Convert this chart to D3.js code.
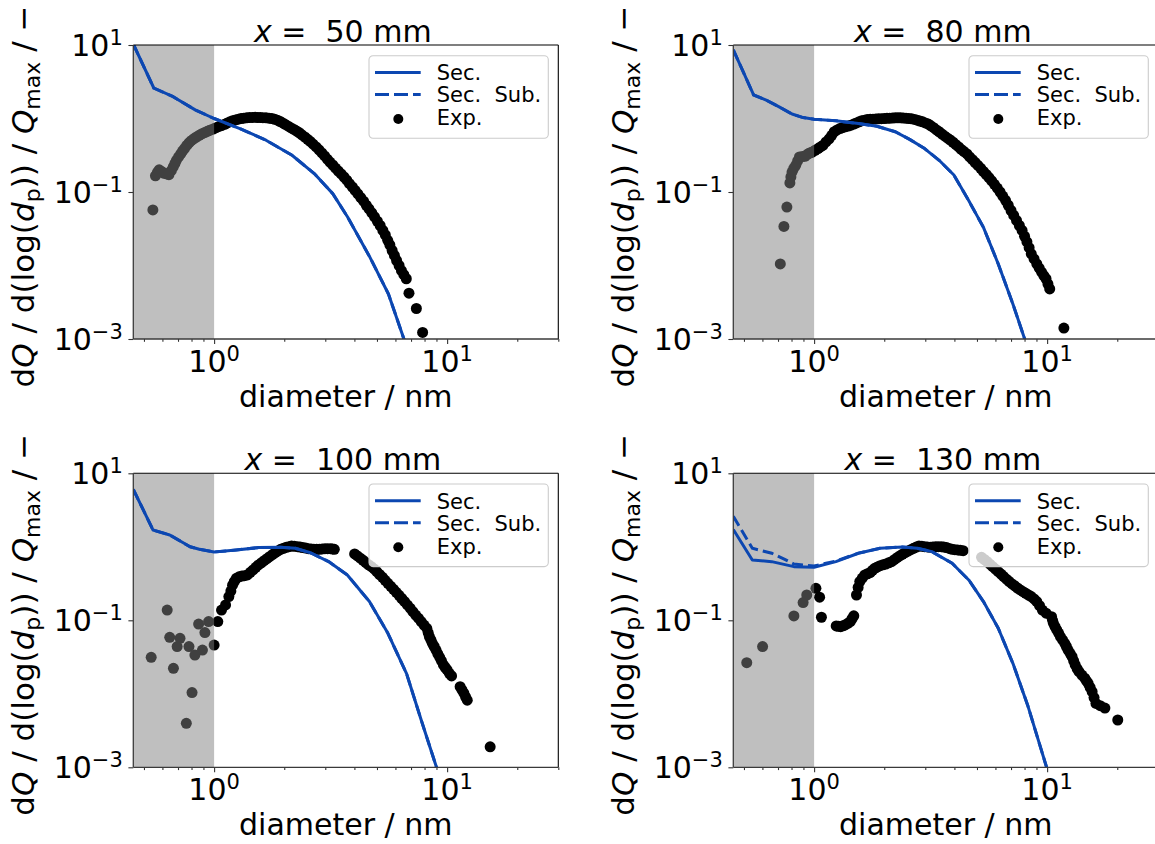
<!DOCTYPE html>
<html>
<head>
<meta charset="utf-8">
<script src="https://cdn.jsdelivr.net/npm/d3@7"></script>
<style>
  body { margin: 0; background: #fff; }
  text { font-family: "DejaVu Sans", sans-serif; fill: #000; }
</style>
</head>
<body>
<svg id="fig" width="1155" height="844"></svg>
<script>
// ---- data: size distributions at four axial positions ----
const positions = ["50", "80", "100", "130"];

// x-axis ticks (diameter, nm) and y-axis ticks
const xMajor = [1, 10];
const xMajorExp = ["0", "1"];
const xMinor = [0.5, 0.6, 0.7, 0.8, 0.9, 2, 3, 4, 5, 6, 7, 8, 9, 20, 30];
const yMajor = [10, 0.1, 0.001];
const yMajorExp = ["1", "\u22121", "\u22123"];

// sectional model, [diameter, dQ/dlog(dp)/Qmax]
const sec50 = [[0.45,10.3],[0.551,2.6],[0.667,1.98],[0.833,1.3],[1.0,1.0],[1.29,0.73],[1.67,0.507],[2.16,0.316],[2.69,0.178],[3.23,0.095],[3.74,0.0457],[4.66,0.013],[5.6,0.0041],[6.6,0.0009]];
const sub50 = [[0.45,10.3],[0.551,2.6],[0.667,1.98],[0.833,1.3],[1.0,1.0],[1.29,0.73],[1.67,0.507],[2.16,0.316],[2.69,0.178],[3.23,0.095],[3.74,0.0457],[4.66,0.013],[5.6,0.0041],[6.6,0.0009]];
const sec80 = [[0.45,8.6],[0.55,2.09],[0.623,1.78],[0.708,1.44],[0.804,1.15],[0.897,1.03],[1.0,0.98],[1.24,0.93],[1.55,0.855],[1.86,0.785],[2.23,0.66],[2.57,0.52],[2.98,0.39],[3.44,0.27],[3.98,0.17],[4.6,0.077],[5.33,0.033],[6.17,0.0105],[7.13,0.003],[8.1,0.0009]];
const sub80 = [[0.45,8.6],[0.55,2.09],[0.623,1.78],[0.708,1.44],[0.804,1.15],[0.897,1.03],[1.0,0.98],[1.24,0.93],[1.55,0.855],[1.86,0.785],[2.23,0.66],[2.57,0.52],[2.98,0.39],[3.44,0.27],[3.98,0.17],[4.6,0.077],[5.33,0.033],[6.17,0.0105],[7.13,0.003],[8.1,0.0009]];
const sec100 = [[0.45,6.05],[0.547,1.69],[0.645,1.45],[0.789,1.0],[0.864,0.925],[1.0,0.85],[1.245,0.905],[1.55,0.975],[1.93,0.985],[2.23,0.955],[2.59,0.83],[3.1,0.63],[3.73,0.414],[4.64,0.18],[5.57,0.0665],[6.69,0.019],[7.74,0.0044],[9.1,0.0009]];
const sub100 = [[0.45,6.05],[0.547,1.69],[0.645,1.45],[0.789,1.0],[0.864,0.925],[1.0,0.85],[1.245,0.905],[1.55,0.975],[1.93,0.985],[2.23,0.955],[2.59,0.83],[3.1,0.63],[3.73,0.414],[4.64,0.18],[5.57,0.0665],[6.69,0.019],[7.74,0.0044],[9.1,0.0009]];
const sec130 = [[0.45,1.72],[0.543,0.662],[0.658,0.628],[0.819,0.537],[1.0,0.526],[1.24,0.628],[1.55,0.817],[1.92,0.955],[2.39,0.995],[2.77,0.955],[3.2,0.86],[3.91,0.597],[4.61,0.354],[5.33,0.18],[6.17,0.078],[7.13,0.026],[8.25,0.007],[10.05,0.0009]];
const sub130 = [[0.45,2.6],[0.543,0.955],[0.658,0.817],[0.748,0.676],[0.819,0.583],[1.0,0.548],[1.24,0.64],[1.55,0.82],[1.92,0.955],[2.39,0.995],[2.77,0.955],[3.2,0.86],[3.91,0.597],[4.61,0.354],[5.33,0.18],[6.17,0.078],[7.13,0.026],[8.25,0.007],[10.05,0.0009]];

// measurements, [diameter, dQ/dlog(dp)/Qmax]
const exp50 = [[0.546,0.057],[0.56,0.166],[0.571,0.185],[0.581,0.2],[0.595,0.19],[0.61,0.18],[0.625,0.176],[0.64,0.172],[0.655,0.195],[0.668,0.22],[0.679,0.245],[0.689,0.27],[0.704,0.3],[0.719,0.33],[0.732,0.36],[0.746,0.39],[0.763,0.43],[0.78,0.466],[0.798,0.5],[0.817,0.53],[0.84,0.56],[0.863,0.59],[0.887,0.62],[0.912,0.645],[0.935,0.67],[0.957,0.69],[0.99,0.72],
  [1.02,0.75],[1.05,0.78],[1.076,0.8],[1.11,0.835],[1.14,0.87],[1.17,0.9],[1.2,0.93],[1.235,0.955],[1.27,0.98],[1.305,1.0],[1.34,1.01],[1.38,1.02],[1.42,1.03],[1.46,1.035],[1.5,1.04],[1.54,1.035],[1.58,1.03],[1.62,1.025],[1.67,1.02],[1.72,1.01],[1.77,1.0],[1.82,0.975],[1.87,0.95],[1.92,0.91],[1.97,0.87],[2.02,0.83],[2.08,0.785],[2.14,0.745],[2.2,0.71],[2.26,0.675],[2.32,0.64],[2.38,0.6],[2.45,0.56],[2.52,0.52],[2.59,0.485],[2.66,0.447],[2.74,0.41],[2.82,0.375],[2.9,0.34],[2.98,0.31],[3.06,0.28],[3.14,0.255],[3.23,0.233],[3.32,0.212],[3.41,0.193],[3.51,0.176],[3.61,0.16],[3.71,0.145],[3.81,0.13],[3.92,0.117],[4.03,0.105],[4.14,0.094],[4.26,0.084],[4.38,0.075],[4.5,0.066],[4.62,0.059],[4.75,0.052],[4.88,0.046],[5.02,0.04],[5.16,0.035],[5.3,0.03],[5.43,0.026],[5.56,0.022],[5.68,0.019],[5.81,0.016],[5.94,0.0137],[6.07,0.0117],[6.22,0.01],[6.37,0.0085],[6.52,0.0075],[6.68,0.0066],[6.86,0.0042],[7.38,0.0026],[7.85,0.00123]];
const exp80 = [[0.716,0.0105],[0.742,0.034],[0.764,0.0624],[0.787,0.133],[0.795,0.16],[0.804,0.187],[0.818,0.21],[0.834,0.231],[0.85,0.265],[0.865,0.3],[0.89,0.303],[0.913,0.306],[0.93,0.32],[0.947,0.333],[0.965,0.342],[0.982,0.35],
  [1.01,0.37],[1.04,0.39],[1.065,0.41],[1.09,0.43],[1.125,0.48],[1.16,0.53],[1.19,0.59],[1.22,0.66],[1.255,0.7],[1.29,0.73],[1.325,0.75],[1.36,0.77],[1.4,0.79],[1.44,0.81],[1.48,0.84],[1.52,0.87],[1.56,0.9],[1.6,0.93],[1.645,0.95],[1.69,0.97],[1.74,0.975],[1.79,0.98],[1.84,0.985],[1.89,0.99],[1.945,0.995],[2.0,1.0],[2.055,1.005],[2.11,1.01],[2.17,1.015],[2.23,1.02],[2.29,1.02],[2.35,1.02],[2.415,1.015],[2.48,1.01],[2.55,1.0],[2.62,0.99],[2.7,0.97],[2.77,0.95],[2.845,0.925],[2.92,0.9],[3.0,0.87],[3.09,0.84],[3.17,0.795],[3.26,0.75],[3.35,0.7],[3.44,0.66],[3.54,0.615],[3.64,0.575],[3.74,0.54],[3.84,0.51],[3.95,0.475],[4.06,0.44],[4.17,0.41],[4.28,0.38],[4.4,0.355],[4.53,0.33],[4.65,0.3],[4.78,0.275],[4.91,0.252],[5.05,0.23],[5.19,0.21],[5.33,0.19],[5.48,0.173],[5.63,0.157],[5.78,0.142],[5.94,0.127],[6.11,0.113],[6.28,0.1],[6.45,0.088],[6.63,0.077],[6.81,0.066],[7.0,0.056],[7.19,0.048],[7.39,0.041],[7.6,0.035],[7.81,0.03],[8.0,0.025],[8.19,0.021],[8.37,0.0175],[8.55,0.0144],[8.79,0.0123],[9.03,0.0105],[9.25,0.0092],[9.47,0.0081],[9.68,0.0073],[9.89,0.0066],[10.08,0.0056],[10.26,0.0048],[11.8,0.00141]];
const exp100 = [[0.537,0.0314],[0.629,0.138],[0.645,0.0587],[0.669,0.0222],[0.694,0.0439],[0.714,0.0569],[0.76,0.00397],[0.78,0.0439],[0.804,0.0104],[0.827,0.0337],[0.858,0.089],[0.891,0.0394],[0.913,0.068],[0.947,0.096],
  [1.0,0.046],[1.037,0.096],[1.076,0.138],[1.12,0.162],[1.157,0.21],[1.18,0.25],[1.2,0.3],[1.22,0.335],[1.245,0.372],[1.28,0.39],[1.315,0.4],[1.35,0.405],[1.39,0.414],[1.43,0.45],[1.47,0.484],[1.51,0.525],[1.55,0.566],[1.595,0.605],[1.64,0.648],[1.685,0.69],[1.73,0.735],[1.78,0.785],[1.83,0.833],[1.88,0.88],[1.93,0.925],[1.985,0.955],[2.04,0.985],[2.095,1.005],[2.15,1.025],[2.21,1.015],[2.28,1.005],[2.34,0.99],[2.4,0.975],[2.47,0.96],[2.54,0.944],[2.61,0.935],[2.68,0.925],[2.755,0.925],[2.83,0.925],[2.91,0.935],[2.99,0.944],[3.07,0.944],[3.16,0.944],[3.22,0.935],[3.28,0.925],
  [4.01,0.8],[4.12,0.75],[4.24,0.7],[4.36,0.655],[4.48,0.61],[4.6,0.57],[4.73,0.537],[4.86,0.5],[4.99,0.46],[5.13,0.42],[5.28,0.385],[5.42,0.35],[5.57,0.318],[5.73,0.29],[5.89,0.264],[6.05,0.24],[6.22,0.219],[6.39,0.198],[6.57,0.18],[6.75,0.162],[6.94,0.146],[7.13,0.131],[7.33,0.118],[7.53,0.107],[7.74,0.096],[7.96,0.086],[8.18,0.0778],[8.29,0.068],[8.39,0.06],[8.52,0.054],[8.64,0.0487],[8.8,0.044],[8.96,0.0394],[9.12,0.035],[9.29,0.0314],[9.46,0.028],[9.64,0.0247],[9.82,0.0228],[10.0,0.0211],[10.22,0.019],[10.45,0.0175],[11.37,0.0125],[11.58,0.0113],[11.8,0.0102],[12.0,0.0091],[12.2,0.0082],[15.3,0.0019]];
const exp130 = [[0.514,0.0265],[0.601,0.0439],[0.819,0.1146],[0.897,0.174],[0.93,0.221],
  [1.018,0.272],[1.056,0.206],[1.075,0.11],[1.244,0.0838],[1.27,0.083],[1.3,0.082],[1.33,0.084],[1.36,0.0865],[1.395,0.091],[1.43,0.096],[1.455,0.105],[1.48,0.115],[1.52,0.221],[1.545,0.28],[1.57,0.336],[1.61,0.375],[1.65,0.414],[1.695,0.43],[1.74,0.446],[1.78,0.478],[1.82,0.51],[1.87,0.532],[1.92,0.554],[1.975,0.568],[2.03,0.583],[2.09,0.605],[2.15,0.628],[2.21,0.668],[2.27,0.712],[2.33,0.75],[2.39,0.791],[2.46,0.832],[2.53,0.877],[2.6,0.915],[2.67,0.955],[2.745,0.99],[2.82,1.026],[2.9,1.015],[2.98,1.005],[3.06,0.995],[3.15,0.984],[3.23,0.995],[3.32,1.005],[3.41,1.005],[3.51,1.005],[3.6,0.99],[3.7,0.975],[3.8,0.95],[3.91,0.925],[4.02,0.915],[4.13,0.906],[4.24,0.896],[4.36,0.887],
  [5.23,0.72],[5.38,0.672],[5.53,0.628],[5.68,0.58],[5.84,0.537],[6.0,0.497],[6.17,0.459],[6.34,0.425],[6.51,0.393],[6.69,0.363],[6.88,0.336],[7.07,0.313],[7.26,0.293],[7.46,0.275],[7.67,0.259],[7.88,0.245],[8.1,0.233],[8.32,0.221],[8.55,0.21],[8.79,0.195],[9.03,0.18],[9.28,0.158],[9.54,0.138],[9.9,0.125],[10.45,0.112],[10.55,0.1],[10.64,0.091],[10.82,0.082],[11.0,0.074],[11.2,0.067],[11.4,0.06],[11.65,0.054],[11.9,0.0487],[12.1,0.044],[12.3,0.0394],[12.55,0.0355],[12.8,0.032],[13.0,0.028],[13.2,0.0247],[13.45,0.022],[13.7,0.02],[14.1,0.018],[14.5,0.0163],[14.75,0.015],[15.0,0.0139],[15.3,0.0122],[15.6,0.0107],[15.9,0.0089],[16.2,0.0074],[16.9,0.0069],[17.7,0.0064],[20.1,0.0044]];

const secSeries = [sec50, sec80, sec100, sec130];
const subSeries = [sub50, sub80, sub100, sub130];
const expSeries = [exp50, exp80, exp100, exp130];
const legendLabels = ["Sec.", "Sec.  Sub.", "Exp."];

// ---- layout ----
const W = 425, H = 294;
const colX = [133.3, 733.3], rowY = [45, 473.3];
const blue = "#0c47b1";
const shadeMax = 1.0;   // diameters below this are shaded

const x = d3.scaleLog().domain([0.45, 30]).range([0, W]);
const y = d3.scaleLog().domain([1e-3, 10]).range([H, 0]);

const svg = d3.select("#fig");
svg.append("rect").attr("width", 1155).attr("height", 844).attr("fill", "#fff");

const line = d3.line().x(d => x(d[0])).y(d => y(d[1]));

positions.forEach((pos, i) => {
  const g = svg.append("g")
    .attr("transform", `translate(${colX[i % 2]},${rowY[Math.floor(i / 2)]})`);

  const clipId = "clip" + i;
  g.append("clipPath").attr("id", clipId)
    .append("rect").attr("width", W).attr("height", H);

  const plot = g.append("g").attr("clip-path", `url(#${clipId})`);

  // measured points
  plot.append("g").selectAll("circle").data(expSeries[i]).join("circle")
    .attr("cx", d => x(d[0])).attr("cy", d => y(d[1]))
    .attr("r", 5.5).attr("fill", "#000");

  // shaded small-diameter range, laid over the points
  plot.append("rect")
    .attr("x", 0).attr("y", 0)
    .attr("width", x(shadeMax)).attr("height", H)
    .attr("fill", "#808080").attr("fill-opacity", 0.5);

  // model curves
  plot.append("path").datum(secSeries[i]).attr("d", line)
    .attr("fill", "none").attr("stroke", blue).attr("stroke-width", 3)
    .attr("stroke-linejoin", "round");
  plot.append("path").datum(subSeries[i]).attr("d", line)
    .attr("fill", "none").attr("stroke", blue).attr("stroke-width", 3)
    .attr("stroke-dasharray", "11,5");

  // axes: minor and major ticks
  const xMin = g.append("g").attr("transform", `translate(0,${H})`)
    .call(d3.axisBottom(x).tickValues(xMinor).tickSize(2.8).tickFormat(""));
  const xMaj = g.append("g").attr("transform", `translate(0,${H})`)
    .call(d3.axisBottom(x).tickValues(xMajor).tickSize(4.9).tickFormat(""));
  const yMaj = g.append("g")
    .call(d3.axisLeft(y).tickValues(yMajor).tickSize(4.9).tickFormat(""));
  [xMin, xMaj, yMaj].forEach(a => {
    a.select(".domain").remove();
    a.selectAll(".tick line").attr("stroke", "#333").attr("stroke-width", 1.1);
  });

  // spines
  g.append("line").attr("x1", 0).attr("x2", W).attr("y1", 0).attr("y2", 0)
    .attr("stroke", "#000").attr("stroke-width", 1.1);
  g.append("line").attr("x1", W).attr("x2", W).attr("y1", 0).attr("y2", H)
    .attr("stroke", "#000").attr("stroke-width", 1.1);
  g.append("line").attr("x1", 0).attr("x2", 0).attr("y1", 0).attr("y2", H)
    .attr("stroke", "#3a3a3a").attr("stroke-width", 1.3);
  g.append("line").attr("x1", 0).attr("x2", W).attr("y1", H).attr("y2", H)
    .attr("stroke", "#3a3a3a").attr("stroke-width", 1.3);

  // tick labels with exponents
  xMajor.forEach((v, k) => {
    const t = g.append("text").attr("x", x(v)).attr("y", H + 32.7)
      .attr("text-anchor", "middle").attr("font-size", 30);
    t.append("tspan").text("10");
    t.append("tspan").attr("font-size", 21).attr("dy", -11).text(xMajorExp[k]);
  });
  yMajor.forEach((v, k) => {
    const t = g.append("text").attr("x", -10.5).attr("y", y(v) + 11)
      .attr("text-anchor", "end").attr("font-size", 30);
    t.append("tspan").text("10");
    t.append("tspan").attr("font-size", 21).attr("dy", -11).text(yMajorExp[k]);
  });

  // title
  const title = g.append("text").attr("x", W / 2 - 3).attr("y", -3.5)
    .attr("text-anchor", "middle").attr("font-size", 30)
    .style("white-space", "pre");
  title.append("tspan").attr("font-style", "italic").text("x");
  title.append("tspan").text(" =  " + pos + " mm");

  // axis labels
  g.append("text").attr("x", W / 2).attr("y", H + 67.7)
    .attr("text-anchor", "middle").attr("font-size", 30)
    .text("diameter / nm");

  const yl = g.append("text")
    .attr("transform", `translate(-99.3,${H / 2 + 4.5}) rotate(-90)`)
    .attr("text-anchor", "middle").attr("font-size", 31)
    .style("white-space", "pre");
  yl.append("tspan").text("d");
  yl.append("tspan").attr("font-style", "italic").text("Q");
  yl.append("tspan").text(" / d(log(");
  yl.append("tspan").attr("font-style", "italic").text("d");
  yl.append("tspan").attr("font-size", 22).attr("dy", 6).text("p");
  yl.append("tspan").attr("dy", -6).text(")) / ");
  yl.append("tspan").attr("font-style", "italic").text("Q");
  yl.append("tspan").attr("font-size", 22).attr("dy", 6).text("max");
  yl.append("tspan").attr("dy", -6).text(" / \u2212");

  // legend
  const lw = 179.3, lh = 82.6;
  const lg = g.append("g").attr("transform", `translate(${W - 10 - lw},10.7)`);
  lg.append("rect").attr("width", lw).attr("height", lh).attr("rx", 4)
    .attr("fill", "#fff").attr("fill-opacity", 0.8)
    .attr("stroke", "#cccccc").attr("stroke-width", 1.1);
  const rows = [16.8, 38.8, 61.8];
  lg.append("line").attr("x1", 6).attr("x2", 51.7).attr("y1", rows[0]).attr("y2", rows[0])
    .attr("stroke", blue).attr("stroke-width", 3);
  lg.append("line").attr("x1", 6).attr("x2", 51.7).attr("y1", rows[1]).attr("y2", rows[1])
    .attr("stroke", blue).attr("stroke-width", 3).attr("stroke-dasharray", "14,5");
  lg.append("circle").attr("cx", 29.3).attr("cy", rows[2] + 1.5).attr("r", 5)
    .attr("fill", "#000");
  legendLabels.forEach((s, k) => {
    lg.append("text").attr("x", 67.7).attr("y", rows[k] + 7.8)
      .attr("font-size", 21).style("white-space", "pre").text(s);
  });
});
</script>
</body>
</html>
